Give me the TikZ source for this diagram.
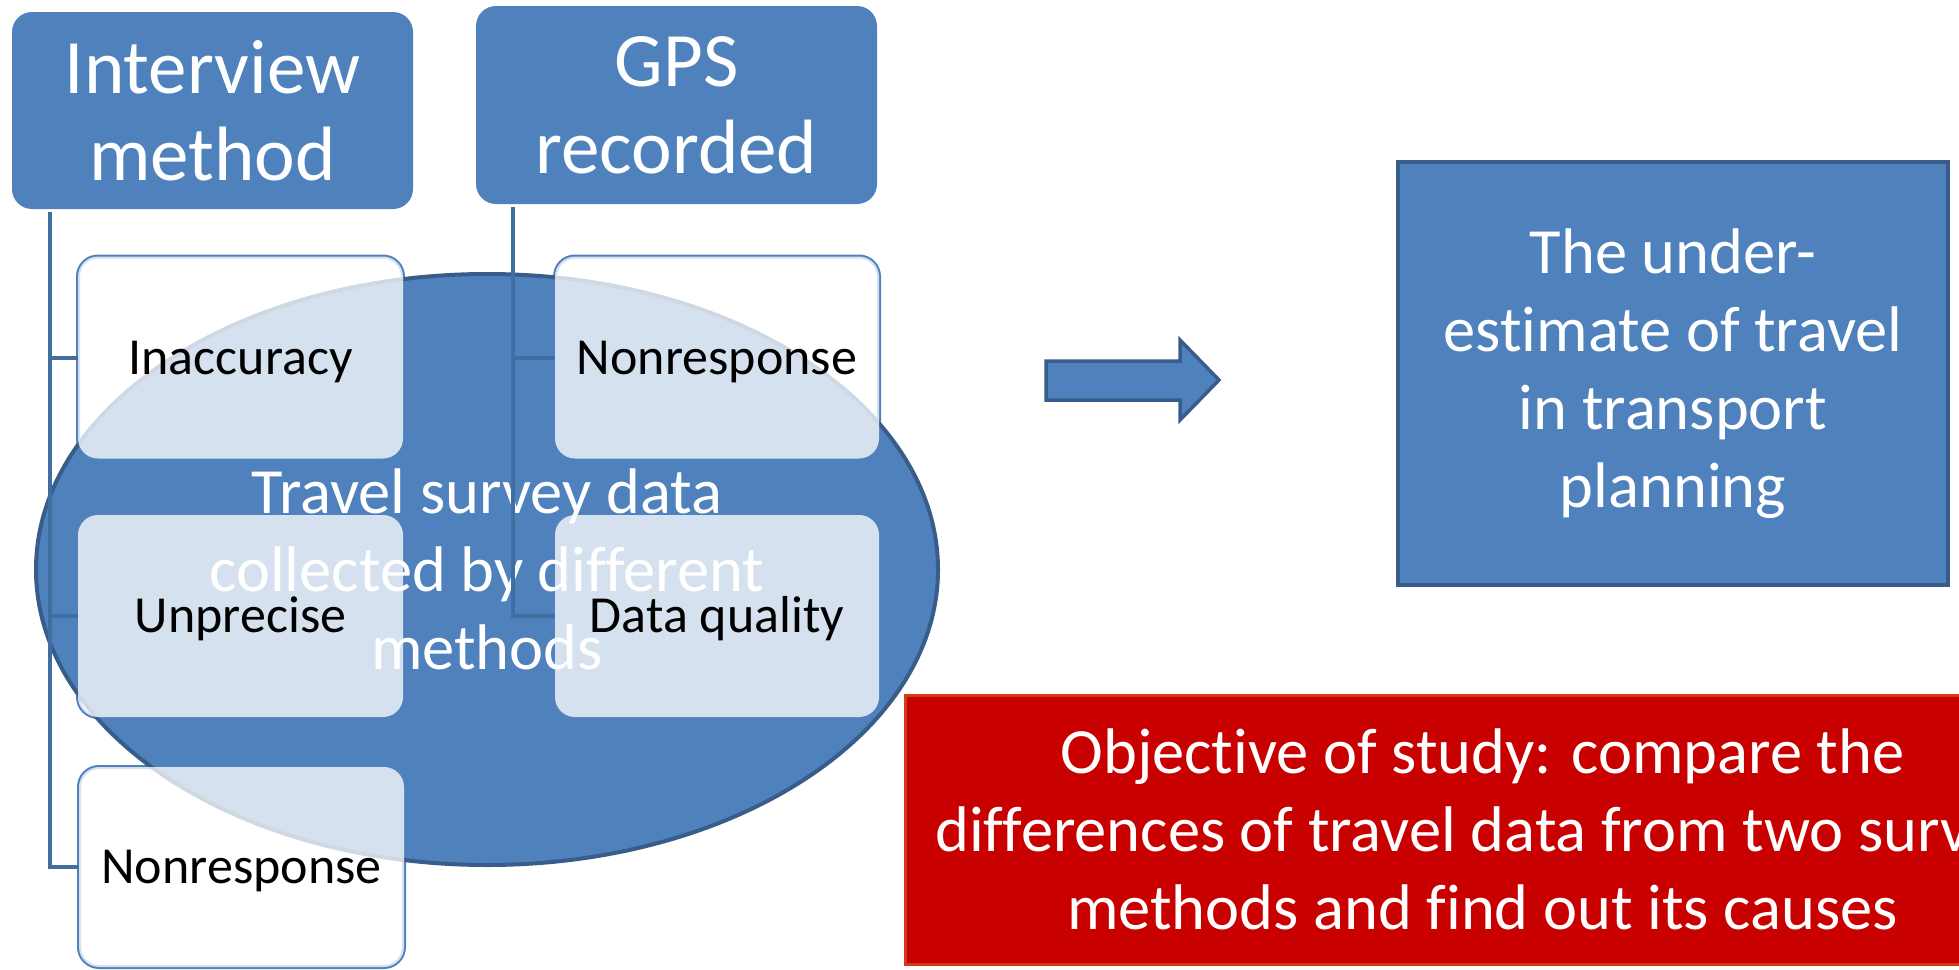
\documentclass[tikz,border=0pt]{standalone}
\usepackage{fontspec}
\setmainfont{Carlito}[RawFeature={-liga;-clig;-calt;-dlig}]
\usetikzlibrary{shapes.geometric}
\definecolor{fillblue}{RGB}{79,129,189}
\definecolor{darkblue}{RGB}{56,93,138}
\definecolor{connblue}{RGB}{65,110,160}
\definecolor{redfill}{RGB}{200,0,0}
\definecolor{redline}{RGB}{210,60,20}
\pgfdeclarelayer{back}
\pgfdeclarelayer{ell}
\pgfsetlayers{back,ell,main}
\newcommand\hdrfont{\fontsize{77}{87}\selectfont}
\newcommand\bigfont{\fontsize{64.5}{78}\selectfont}
\newcommand\itemfont{\fontsize{52}{62}\selectfont}
\tikzset{
  hdrbox/.style={rectangle, rounded corners=20pt, fill=fillblue, text=white,
    font=\hdrfont, align=center, inner sep=0pt, outer sep=0pt, minimum width=401pt},
  itembox/.style={rectangle, rounded corners=20pt, fill=white, fill opacity=0.77,
    text opacity=1, text=black, font=\itemfont, align=center, inner sep=0pt,
    outer sep=0pt, minimum width=325pt, minimum height=202pt,
    text height=33pt, text depth=0pt},
  itemborder/.style={draw=fillblue, line width=4pt, fill=white, rounded corners=20pt},
  conn/.style={draw=connblue, line width=4pt},
  bigell/.style={ellipse, fill=fillblue, draw=darkblue, line width=4pt,
    minimum width=902pt, minimum height=591pt, inner sep=0pt, text=white,
    font=\bigfont, align=center},
  resultbox/.style={rectangle, fill=fillblue, draw=darkblue, line width=4pt,
    minimum width=550pt, minimum height=423pt, text=white, font=\bigfont,
    align=center, inner sep=0pt},
  objbox/.style={rectangle, fill=redfill, draw=redline, line width=3pt,
    minimum width=1155pt, minimum height=269pt, text=white, font=\bigfont,
    align=center, inner sep=0pt},
  blockarrow/.style={fill=fillblue, draw=darkblue, line width=3.5pt, line join=miter}
}
\begin{document}
\begin{tikzpicture}[x=1pt,y=-1pt]
\useasboundingbox (0,0) rectangle (1959,969);
\clip (0,0) rectangle (1959,969);

% headers
\node[hdrbox, minimum height=197pt] (im) at (212.5,110.5) {Interview\\method};
\node[hdrbox, minimum height=198pt] (gps) at (676.5,105) {GPS\\recorded};

% ellipse
\begin{pgfonlayer}{ell}
\node[bigell] (el) at (487,569.5) {Travel survey data\\collected by different\\methods};
\end{pgfonlayer}

% item boxes
\node[itembox] (b1) at (240.5,357.5) {Inaccuracy};
\node[itembox] (b2) at (240.5,616) {Unprecise};
\node[itembox, minimum height=200pt] (b3) at (241.5,867) {Nonresponse};
\node[itembox, minimum width=324pt] (c1) at (717,357.5) {Nonresponse};
\node[itembox, minimum width=324pt] (c2) at (717,616) {Data quality};

\begin{pgfonlayer}{back}
\foreach \b in {b1,b2,b3,c1,c2}
  \draw[itemborder] (\b.north west) rectangle (\b.south east);
\end{pgfonlayer}

% connectors
\coordinate (imroot) at ([xshift=38pt,yshift=-3pt]im.south west);
\coordinate (gpsroot) at ([xshift=37pt,yshift=-3pt]gps.south west);
\draw[conn] (imroot) |- (b3.west);
\draw[conn] (imroot) |- (b1.west);
\draw[conn] (imroot) |- (b2.west);
\draw[conn] (gpsroot) |- (c2.west);
\draw[conn] (gpsroot) |- (c1.west);

% block arrow
\coordinate (arw) at (1046,380);
\draw[blockarrow] (arw) -- (1046,361) -- (1180,361) -- (1180,340) -- (1219,380)
  -- (1180,420) -- (1180,400) -- (1046,400) -- cycle;

% result box
\node[resultbox] (res) at (1673,373.5) {The under-\\estimate of travel\\in transport\\planning};

% objective box
\node[objbox] (obj) at (1482.5,829.5) {Objective of study: compare the\\differences of travel data from two survey\\methods and find out its causes};
\end{tikzpicture}
\end{document}
